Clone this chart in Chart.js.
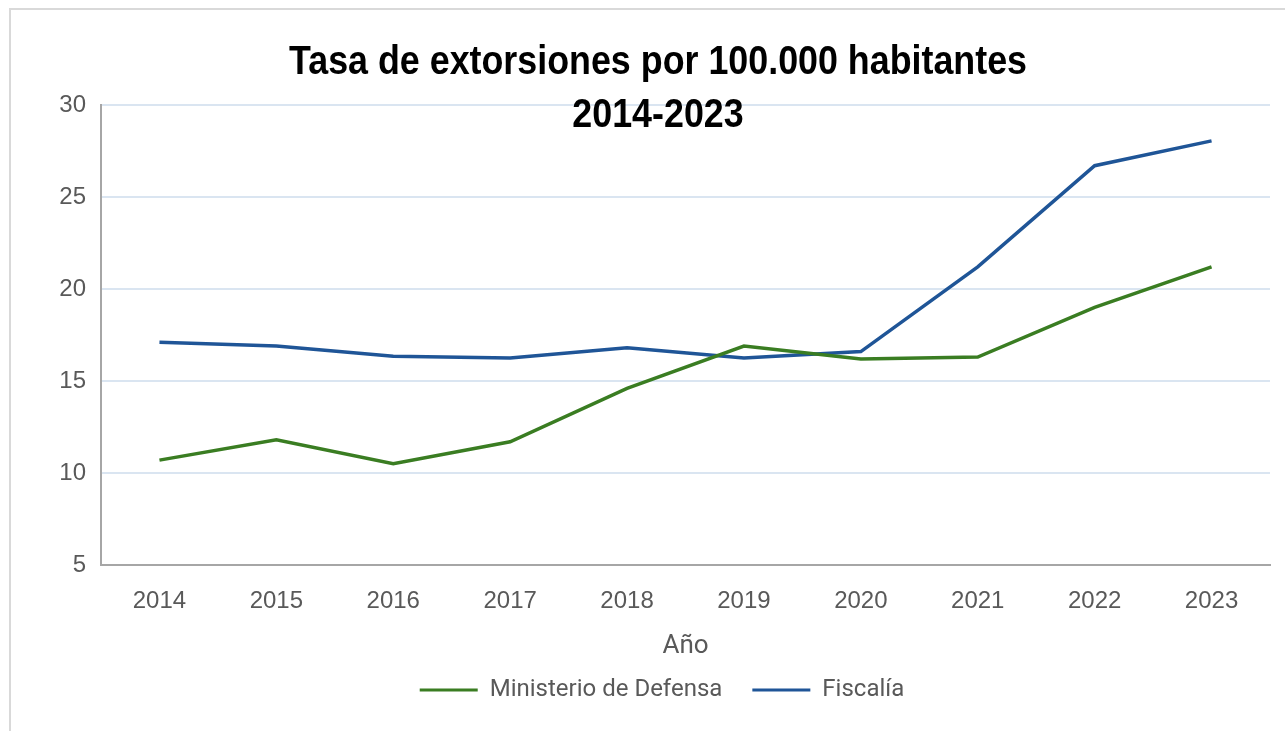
<!DOCTYPE html>
<html>
<head>
<meta charset="utf-8">
<script src="https://cdn.jsdelivr.net/npm/chart.js@4"></script>
<style>
  body { margin: 0; background: #fff; }
  #frame { position: absolute; left: 9px; top: 8px; width: 1400px; height: 800px; border: 2px solid #d9d9d9; }
  #wrap { position: absolute; left: 0; top: 0; width: 1285px; height: 731px; }
</style>
</head>
<body>
<div id="frame"></div>
<div id="wrap"><canvas id="myChart" width="1285" height="731"></canvas></div>
<script>
const years = ['2014', '2015', '2016', '2017', '2018', '2019', '2020', '2021', '2022', '2023'];
const minDefensa = [10.7, 11.8, 10.5, 11.7, 14.6, 16.9, 16.2, 16.3, 19.0, 21.2];
const fiscalia = [17.1, 16.9, 16.35, 16.25, 16.8, 16.25, 16.6, 21.2, 26.7, 28.05];
const yTicks = [5, 10, 15, 20, 25, 30];
const titleLines = ['Tasa de extorsiones por 100.000 habitantes', '2014-2023'];

// title sits over the top of the plot, so draw it by hand (squeezed to look condensed)
const titlePlugin = {
  id: 'overlayTitle',
  afterDraw(chart) {
    const c = chart.ctx;
    c.save();
    c.fillStyle = '#000';
    c.textAlign = 'center';
    c.textBaseline = 'middle';
    c.font = 'bold 40px "Liberation Sans", Arial, sans-serif';
    let ratio = 738 / c.measureText(titleLines[0]).width;
    c.translate(658, 0);
    c.scale(ratio, 1);
    c.fillText(titleLines[0], 0, 63);
    c.fillText(titleLines[1], 0, 116);
    c.restore();
  }
};

const ctx = document.getElementById('myChart');

new Chart(ctx, {
  type: 'line',
  data: {
    labels: years,
    datasets: [{
      label: 'Ministerio de Defensa',
      data: minDefensa,
      borderColor: '#3a7d22',
      backgroundColor: '#3a7d22',
      borderWidth: 3.5,
      pointRadius: 0,
      tension: 0
    }, {
      label: 'Fiscalía',
      data: fiscalia,
      borderColor: '#1f5597',
      backgroundColor: '#1f5597',
      borderWidth: 3.5,
      pointRadius: 0,
      tension: 0
    }]
  },
  options: {
    responsive: false,
    animation: false,
    layout: { padding: { left: 54, right: 15, top: 105, bottom: 19 } },
    plugins: {
      tooltip: { enabled: false },
      legend: {
        position: 'bottom',
        labels: {
          font: { family: 'Roboto', size: 24 },
          color: '#595959',
          boxWidth: 58,
          boxHeight: 3,
          padding: 30,
          generateLabels: chart => chart.data.datasets.map((ds, i) => ({
            text: ds.label,
            fillStyle: ds.borderColor,
            strokeStyle: ds.borderColor,
            lineWidth: 0,
            fontColor: '#595959',
            datasetIndex: i
          }))
        }
      }
    },
    scales: {
      x: {
        offset: true,
        afterFit: scale => { scale.height = 83; },
        grid: { display: false, drawTicks: false },
        border: { color: '#a6a6a6', width: 2 },
        ticks: { font: { family: 'Liberation Sans', size: 24 }, color: '#595959', padding: 22 },
        title: {
          display: true,
          text: 'Año',
          font: { family: 'Roboto', size: 26 },
          color: '#595959',
          padding: { top: 0, bottom: -14 }
        }
      },
      y: {
        min: 5,
        max: 30,
        afterFit: scale => { scale.width = 47; },
        afterBuildTicks: scale => { scale.ticks = yTicks.map(v => ({ value: v })); },
        grid: {
          drawTicks: false,
          color: ctx => ctx.tick.value === 5 ? 'rgba(0,0,0,0)' : '#dae5f1',
          lineWidth: 2
        },
        border: { color: '#a6a6a6', width: 2 },
        ticks: { font: { family: 'Liberation Sans', size: 24 }, color: '#595959', padding: 15 }
      }
    }
  },
  plugins: [titlePlugin]
});
</script>
</body>
</html>
